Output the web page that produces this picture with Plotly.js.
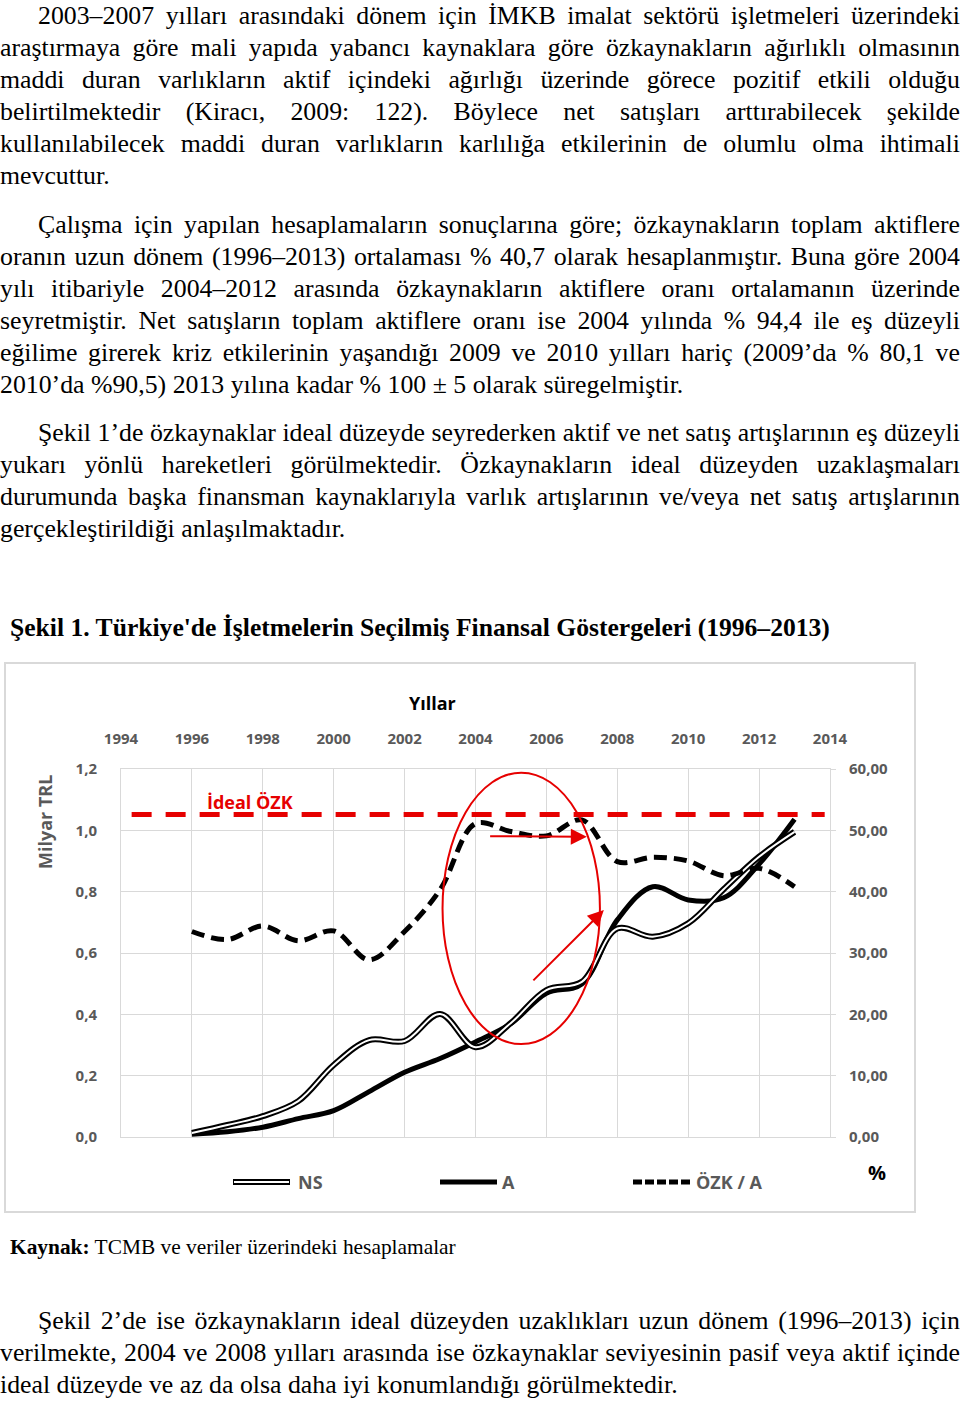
<!DOCTYPE html>
<html><head><meta charset="utf-8">
<script src="https://cdn.plot.ly/plotly-3.0.1.min.js"></script>
<style>
html,body{margin:0;padding:0;background:#fff;}
body{width:960px;height:1401px;position:relative;overflow:hidden;font-family:"Liberation Serif","Times New Roman",serif;color:#000;}
.para{position:absolute;left:0;width:960px;font-size:25.8px;line-height:32px;}
.ln{display:flex;justify-content:space-between;white-space:nowrap;height:32px;}
.ln.last{justify-content:flex-start;}
.ln.last span{margin-right:0.25em;}
.ind{padding-left:38px;}
#title{position:absolute;left:10px;top:612px;font-size:25.6px;line-height:32px;font-weight:bold;white-space:nowrap;}
#src{position:absolute;left:10px;top:1231px;font-size:21.4px;line-height:32px;white-space:nowrap;}
#box{position:absolute;left:4px;top:662px;width:912px;height:551px;border:2px solid #d9d9d9;box-sizing:border-box;}
#chart{position:absolute;left:4px;top:662px;width:912px;height:551px;}
</style>
</head><body>
<div id="p1" class="para" style="top:0px"></div>
<div id="p2" class="para" style="top:209px"></div>
<div id="p3" class="para" style="top:417px"></div>
<div id="title">Şekil 1. Türkiye'de İşletmelerin Seçilmiş Finansal Göstergeleri (1996–2013)</div>
<div id="box"></div>
<div id="chart"></div>
<div id="src"><b>Kaynak:</b> TCMB ve veriler üzerindeki hesaplamalar</div>
<div id="p4" class="para" style="top:1305px"></div>
<script>
// ---------- chart data ----------
const years = [1996,1997,1998,1999,2000,2001,2002,2003,2004,2005,2006,2007,2008,2009,2010,2011,2012,2013];
const netSales = [0.013,0.039,0.068,0.117,0.235,0.316,0.313,0.401,0.293,0.372,0.479,0.506,0.680,0.653,0.697,0.808,0.914,0.995];
const assets   = [0.009,0.017,0.032,0.060,0.086,0.148,0.211,0.256,0.310,0.370,0.469,0.499,0.708,0.816,0.773,0.780,0.890,1.036];
const equityRatio = [33.5,32.2,34.4,32.0,33.6,28.9,33.5,40.3,51.1,49.8,49.1,51.7,44.9,45.6,45.0,42.6,43.8,40.8];
const idealYears = [1994.3,2013.85];
const idealLevel = [52.6,52.6];
const xTickVals = [1994,1996,1998,2000,2002,2004,2006,2008,2010,2012,2014];
const xTickText = ['1994','1996','1998','2000','2002','2004','2006','2008','2010','2012','2014'];
const yTickVals = [0,0.2,0.4,0.6,0.8,1.0,1.2];
const yTickText = ['0,0','0,2','0,4','0,6','0,8','1,0','1,2'];
const y2TickVals = [0,10,20,30,40,50,60];
const y2TickText = ['0,00','10,00','20,00','30,00','40,00','50,00','60,00'];
const seriesNames = ['NS','A','ÖZK / A'];

// ---------- text ----------
const paras = {
 p1:["2003–2007 yılları arasındaki dönem için İMKB imalat sektörü işletmeleri üzerindeki",
     "araştırmaya göre mali yapıda yabancı kaynaklara göre özkaynakların ağırlıklı olmasının",
     "maddi duran varlıkların aktif içindeki ağırlığı üzerinde görece pozitif etkili olduğu",
     "belirtilmektedir (Kiracı, 2009: 122). Böylece net satışları arttırabilecek şekilde",
     "kullanılabilecek maddi duran varlıkların karlılığa etkilerinin de olumlu olma ihtimali",
     "mevcuttur."],
 p2:["Çalışma için yapılan hesaplamaların sonuçlarına göre; özkaynakların toplam aktiflere",
     "oranın uzun dönem (1996–2013) ortalaması % 40,7 olarak hesaplanmıştır. Buna göre 2004",
     "yılı itibariyle 2004–2012 arasında özkaynakların aktiflere oranı ortalamanın üzerinde",
     "seyretmiştir. Net satışların toplam aktiflere oranı ise 2004 yılında % 94,4 ile eş düzeyli",
     "eğilime girerek kriz etkilerinin yaşandığı 2009 ve 2010 yılları hariç (2009’da % 80,1 ve",
     "2010’da %90,5) 2013 yılına kadar % 100 ± 5 olarak süregelmiştir."],
 p3:["Şekil 1’de özkaynaklar ideal düzeyde seyrederken aktif ve net satış artışlarının eş düzeyli",
     "yukarı yönlü hareketleri görülmektedir. Özkaynakların ideal düzeyden uzaklaşmaları",
     "durumunda başka finansman kaynaklarıyla varlık artışlarının ve/veya net satış artışlarının",
     "gerçekleştirildiği anlaşılmaktadır."],
 p4:["Şekil 2’de ise özkaynakların ideal düzeyden uzaklıkları uzun dönem (1996–2013) için",
     "verilmekte, 2004 ve 2008 yılları arasında ise özkaynaklar seviyesinin pasif veya aktif içinde",
     "ideal düzeyde ve az da olsa daha iyi konumlandığı görülmektedir."]
};
for (const id in paras) {
  const el = document.getElementById(id);
  const lines = paras[id];
  lines.forEach((t,i)=>{
    const d = document.createElement('div');
    d.className = 'ln' + (i===0?' ind':'') + (i===lines.length-1?' last':'');
    t.split(' ').forEach(w=>{const s=document.createElement('span');s.textContent=w;d.appendChild(s);});
    el.appendChild(d);
  });
}

// ---------- chart ----------
const red = '#e60000';
const traces = [
  {x: years, y: assets, name: seriesNames[1], type:'scatter', mode:'lines',
   line:{color:'#000', width:5, shape:'spline', smoothing:1}, yaxis:'y'},
  {x: years, y: netSales, name: seriesNames[0], type:'scatter', mode:'lines',
   line:{color:'#000', width:6, shape:'spline', smoothing:1}, yaxis:'y'},
  {x: years, y: netSales, name: seriesNames[0]+' (iç)', type:'scatter', mode:'lines',
   line:{color:'#fff', width:2, shape:'spline', smoothing:1}, yaxis:'y', hoverinfo:'skip'},
  {x: years, y: equityRatio, name: seriesNames[2], type:'scatter', mode:'lines',
   line:{color:'#000', width:5, dash:'13px,7px', shape:'spline', smoothing:1}, yaxis:'y2'},
  {x: idealYears, y: idealLevel, name:'İdeal ÖZK', type:'scatter', mode:'lines',
   line:{color:red, width:5, dash:'20px,14px'}, yaxis:'y2'}
];

const PX = p => (p-121)/709;   // legend/label placement helpers (paper coords)
const PY = p => (1137-p)/368;
const gray = '#595959';
const fnt = (s,c,w)=>({family:'Open Sans, sans-serif', size:s, color:c, weight:w||'bold'});

const layout = {
  width:912, height:551,
  margin:{l:117, r:86, t:107, b:76, pad:0},
  paper_bgcolor:'rgba(0,0,0,0)', plot_bgcolor:'#fff',
  showlegend:false,
  font:{family:'Open Sans, sans-serif', color:gray},
  xaxis:{range:[1994,2014], side:'top', tickvals:xTickVals, ticktext:xTickText,
    showgrid:true, gridcolor:'#d9d9d9', gridwidth:1, zeroline:false,
    showline:true, mirror:true, linecolor:'#d9d9d9', linewidth:1, ticks:'',
    ticklabelstandoff:18, tickfont:fnt(15,gray), fixedrange:true},
  yaxis:{range:[0,1.2], tickvals:yTickVals, ticktext:yTickText,
    showgrid:true, gridcolor:'#d9d9d9', gridwidth:1, zeroline:false,
    showline:true, mirror:true, linecolor:'#d9d9d9', linewidth:1, ticks:'',
    ticklabelstandoff:20, tickfont:fnt(15,gray), fixedrange:true},
  yaxis2:{range:[0,60], overlaying:'y', side:'right', tickvals:y2TickVals, ticktext:y2TickText,
    showgrid:false, zeroline:false, showline:false, ticks:'outside', ticklen:5, tickcolor:'#d9d9d9',
    ticklabelstandoff:10, tickfont:fnt(15,gray), fixedrange:true},
  shapes:[
    {type:'circle', xref:'x', yref:'y', x0:2003.07, x1:2007.51, y0:0.303, y1:1.188,
     line:{color:red, width:2}, layer:'above'},
    // custom legend swatches
    {type:'line', xref:'paper', yref:'paper', x0:PX(233), x1:PX(290), y0:PY(1182), y1:PY(1182), line:{color:'#000', width:6}},
    {type:'line', xref:'paper', yref:'paper', x0:PX(234), x1:PX(289), y0:PY(1182), y1:PY(1182), line:{color:'#fff', width:2}},
    {type:'line', xref:'paper', yref:'paper', x0:PX(440), x1:PX(497), y0:PY(1182), y1:PY(1182), line:{color:'#000', width:5}},
    {type:'line', xref:'paper', yref:'paper', x0:PX(633), x1:PX(690), y0:PY(1182), y1:PY(1182), line:{color:'#000', width:5, dash:'9px,3px'}}
  ],
  annotations:[
    {xref:'paper', yref:'paper', x:PX(432), y:PY(703), text:'Yıllar', showarrow:false, font:fnt(18,'#000'), xanchor:'center', yanchor:'middle'},
    {xref:'paper', yref:'paper', x:PX(45), y:PY(822), text:'Milyar TRL', textangle:-90, showarrow:false, font:fnt(18,gray), xanchor:'center', yanchor:'middle'},
    {xref:'paper', yref:'paper', x:PX(877), y:PY(1172), text:'%', showarrow:false, font:fnt(20,'#000'), xanchor:'center', yanchor:'middle'},
    {xref:'x', yref:'y', x:1997.64, y:1.092, text:'İdeal ÖZK', showarrow:false, font:fnt(18,red), xanchor:'center', yanchor:'middle'},
    {xref:'paper', yref:'paper', x:PX(296), y:PY(1182), text:seriesNames[0], showarrow:false, font:fnt(18,gray), xanchor:'left', yanchor:'middle'},
    {xref:'paper', yref:'paper', x:PX(500), y:PY(1182), text:seriesNames[1], showarrow:false, font:fnt(18,gray), xanchor:'left', yanchor:'middle'},
    {xref:'paper', yref:'paper', x:PX(694), y:PY(1182), text:seriesNames[2], showarrow:false, font:fnt(18,gray), xanchor:'left', yanchor:'middle'},
    // red arrows
    {xref:'x', yref:'y', axref:'x', ayref:'y', x:2007.14, y:0.979, ax:2004.37, ay:0.981,
     showarrow:true, arrowhead:2, arrowsize:1.6, arrowwidth:2, arrowcolor:red, text:''},
    {xref:'x', yref:'y', axref:'x', ayref:'y', x:2007.62, y:0.740, ax:2005.59, ay:0.506,
     showarrow:true, arrowhead:2, arrowsize:1.6, arrowwidth:2, arrowcolor:red, text:''}
  ]
};
Plotly.newPlot('chart', traces, layout, {staticPlot:true, displayModeBar:false});
</script>
</body></html>
